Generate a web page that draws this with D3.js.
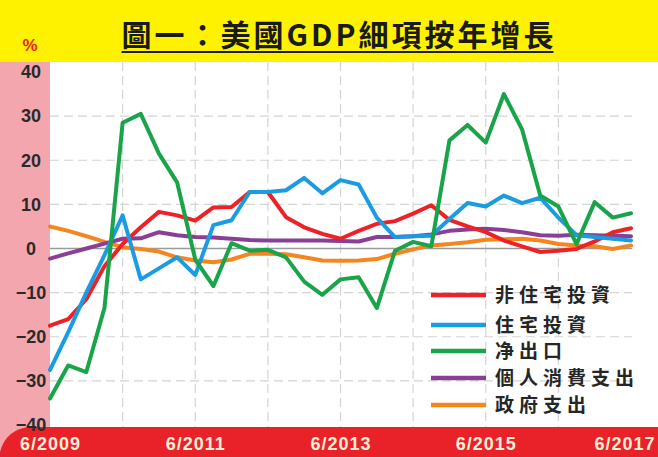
<!DOCTYPE html>
<html><head><meta charset="utf-8">
<script src="https://cdn.jsdelivr.net/npm/d3@7"></script>
<style>
html,body{margin:0;padding:0;background:#fff;}
svg{display:block;}
</style></head>
<body>
<svg id="chart" width="658" height="457"></svg>
<script>
const quarters = ["2009Q2","2009Q3","2009Q4","2010Q1","2010Q2","2010Q3","2010Q4","2011Q1","2011Q2","2011Q3","2011Q4","2012Q1","2012Q2","2012Q3","2012Q4","2013Q1","2013Q2","2013Q3","2013Q4","2014Q1","2014Q2","2014Q3","2014Q4","2015Q1","2015Q2","2015Q3","2015Q4","2016Q1","2016Q2","2016Q3","2016Q4","2017Q1","2017Q2"];
const nonResInvest = [-17.5,-16,-11.5,-4,1,4.8,8.3,7.5,6.3,9.3,9.4,12.8,12.8,7.1,4.8,3.3,2.2,4,5.6,6.2,7.9,9.8,6.5,5,3.7,1.8,0.5,-0.8,-0.5,-0.1,1.6,3.7,4.6];
const resInvest = [-27.5,-19,-10,-1.5,7.5,-7,-4.5,-2,-6,5.3,6.4,12.8,12.8,13.2,16,12.5,15.5,14.5,7,2.6,2.8,2.9,6.7,10.3,9.5,12,10.3,11.5,7,3,2.6,2.2,1.8];
const netExports = [-34,-26.5,-28,-13.5,28.5,30.5,21.5,15,-2.5,-8.5,1.2,-0.5,-0.3,-2,-7.5,-10.5,-7,-6.5,-13.5,-0.5,1.5,0.5,24.5,28,24,35,27,12,9.5,1,10.5,7,8];
const consumption = [-2.3,-1.1,0,1.1,2.2,2.3,3.7,3,2.6,2.5,2.2,1.9,1.8,1.8,1.8,1.8,1.7,1.6,2.6,2.6,2.8,3.2,4,4.3,4.5,4.2,3.7,3,2.9,3.1,3,2.9,2.8];
const govSpending = [5,4,2.8,1.5,0.3,-0.1,-0.7,-2,-2.7,-3.1,-2.5,-1.2,-1.2,-1.3,-2,-2.7,-2.8,-2.7,-2.4,-1.2,-0.2,0.7,1,1.4,2,2.1,2.2,1.8,1,0.7,0.5,-0.1,0.7];
const seriesNames = ["非住宅投資","住宅投資","净出口","個人消費支出","政府支出"];
const seriesColors = ["#ec2227","#1b9ce2","#19a44a","#8a3f97","#f6841f"];
const xTickIndex = [0,8,16,24,32];
const xTickLabels = ["6/2009","6/2011","6/2013","6/2015","6/2017"];
const yTicks = [40,30,20,10,0,-10,-20,-30,-40];
const titleText = "圖一：美國GDP細項按年增長";

const seriesData = [nonResInvest, resInvest, netExports, consumption, govSpending];

const svg = d3.select("#chart");
const W = 658, H = 457;
const x = d3.scaleLinear().domain([0, quarters.length - 1]).range([50, 631]);
const y = d3.scaleLinear().domain([-40, 40]).range([425, 72]);

// backgrounds
svg.append("rect").attr("x",0).attr("y",0).attr("width",W).attr("height",H).attr("fill","#fff");
svg.append("rect").attr("x",0).attr("y",0).attr("width",W).attr("height",62).attr("fill","#fff200");
svg.append("rect").attr("x",0).attr("y",62).attr("width",50).attr("height",H-62).attr("fill","#f3a6ae");
svg.append("path").attr("d","M0,457 L0,452 Q6,429 30,427 L658,427 L658,457 Z").attr("fill","#e92128");

// grid
const grid = svg.append("g");
yTicks.filter(d => d !== 0 && Math.abs(d) !== 40).forEach(d => {
  grid.append("line").attr("x1",50).attr("x2",632).attr("y1",y(d)).attr("y2",y(d))
    .attr("stroke","#d4d4d4").attr("stroke-width",1.2).attr("stroke-dasharray","9,5");
});
d3.range(4, quarters.length - 1, 4).forEach(i => {
  grid.append("line").attr("x1",x(i)).attr("x2",x(i)).attr("y1",62).attr("y2",427)
    .attr("stroke","#d4d4d4").attr("stroke-width",1.2).attr("stroke-dasharray","9,5");
});
grid.append("line").attr("x1",50).attr("x2",632).attr("y1",y(0)).attr("y2",y(0))
  .attr("stroke","#9a9a9a").attr("stroke-width",1.6);

// y axis labels
const yAxis = d3.axisLeft(y).tickValues(yTicks).tickSize(0).tickPadding(0)
  .tickFormat(d => d < 0 ? "−" + Math.abs(d) : String(d));
const yg = svg.append("g").attr("transform","translate(31,0)").call(yAxis);
yg.select(".domain").remove();
yg.selectAll("text").attr("text-anchor","middle").attr("x",0)
  .attr("font-family","'Liberation Sans', Arial, sans-serif").attr("font-weight","bold")
  .attr("font-size",18).attr("fill","#2a2a2a");

// x axis labels
const xAxis = d3.axisBottom(x).tickValues(xTickIndex).tickSize(0).tickPadding(0)
  .tickFormat((d,i) => xTickLabels[i]);
const xg = svg.append("g").attr("transform","translate(0,437)").call(xAxis);
xg.select(".domain").remove();
xg.selectAll("text")
  .attr("font-family","'Liberation Sans', Arial, sans-serif").attr("font-weight","bold")
  .attr("font-size",18).attr("letter-spacing","1px").attr("fill","#fdeed6")
  .attr("text-anchor",(d,i) => i === xTickIndex.length - 1 ? "end" : "middle")
  .attr("dx",(d,i) => i === xTickIndex.length - 1 ? 24 : 0);

// lines
const line = d3.line().x((d,i) => x(i)).y(d => y(d));
const drawOrder = [4,3,0,1,2];
drawOrder.forEach(k => {
  svg.append("path").datum(seriesData[k]).attr("d",line)
    .attr("fill","none").attr("stroke",seriesColors[k]).attr("stroke-width",4)
    .attr("stroke-linejoin","round").attr("stroke-linecap","round");
});

// legend
const legendY = [295,325,351,378,405];
const lg = svg.append("g");
seriesNames.forEach((name,k) => {
  lg.append("line").attr("x1",431).attr("x2",486).attr("y1",legendY[k]).attr("y2",legendY[k])
    .attr("stroke",seriesColors[k]).attr("stroke-width",4.5);
  lg.append("text").attr("x",495).attr("y",legendY[k]).attr("dy","0.36em")
    .attr("font-family","'Noto Sans CJK TC','Noto Sans CJK SC',sans-serif").attr("font-weight","bold")
    .attr("font-size",19).attr("letter-spacing","5px").attr("fill","#262626").text(name);
});

// title
const t = svg.append("text").attr("x",339).attr("y",46).attr("text-anchor","middle")
  .attr("font-family","'Noto Sans CJK TC','Noto Sans CJK SC',sans-serif").attr("font-weight","bold")
  .attr("font-size",30).attr("letter-spacing","3px").attr("fill","#1a1a1a").text(titleText);
const bb = t.node().getBBox();
svg.append("line").attr("x1",bb.x).attr("x2",bb.x+bb.width-3).attr("y1",52).attr("y2",52)
  .attr("stroke","#1a1a1a").attr("stroke-width",2);
svg.append("text").attr("x",30).attr("y",51).attr("text-anchor","middle")
  .attr("font-family","'Liberation Sans', Arial, sans-serif").attr("font-weight","bold")
  .attr("font-size",17).attr("fill","#e92128").text("%");
</script>
</body></html>
